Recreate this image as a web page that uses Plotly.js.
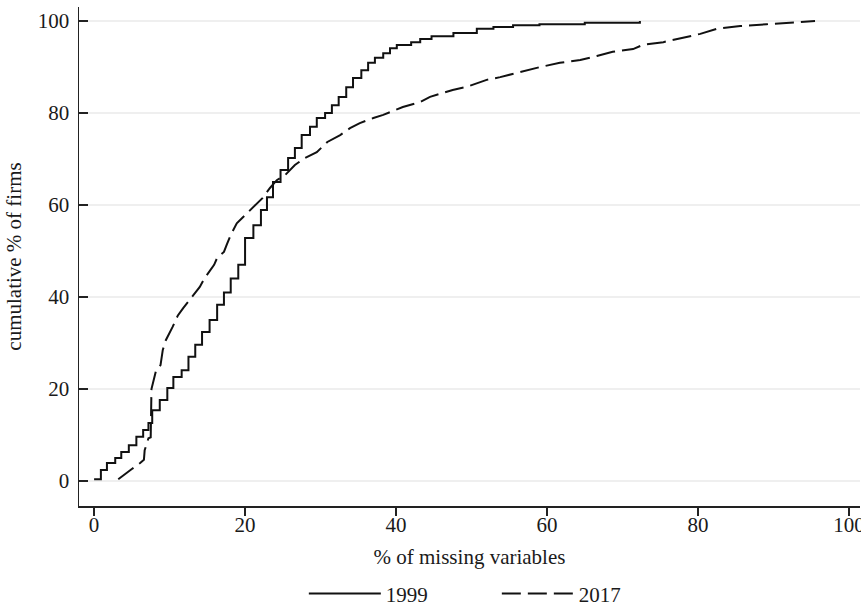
<!DOCTYPE html>
<html>
<head>
<meta charset="utf-8">
<script src="https://cdn.plot.ly/plotly-3.0.1.min.js"></script>
<style>html,body{margin:0;padding:0;background:#fff;}#chart{width:861px;height:615px;}</style>
</head>
<body>
<div id="chart"></div>
<script>
// % of missing variables (x) and cumulative % of firms (y), 1999
const x1999 = [0, 0.9, 1.7, 2.8, 3.6, 4.6, 5.6, 6.5, 7.2, 7.7, 8.7, 9.7, 10.5, 11.6, 12.5, 13.4, 14.3, 15.3, 16.3, 17.2, 18.1, 19.1, 20.0, 21.1, 22.1, 22.9, 23.7, 24.7, 25.7, 26.6, 27.5, 28.6, 29.5, 30.6, 31.5, 32.4, 33.4, 34.3, 35.4, 36.3, 37.2, 38.3, 39.2, 40.1, 42.0, 43.2, 44.7, 47.6, 50.7, 52.9, 55.5, 59.0, 65.0, 72.3];
const y1999 = [0.4, 2.4, 3.9, 5.0, 6.3, 7.8, 9.6, 11.1, 12.6, 15.4, 17.6, 20.2, 22.6, 24.1, 27.0, 29.6, 32.4, 35.0, 38.3, 41.0, 44.0, 47.0, 52.8, 55.6, 58.9, 61.7, 65.0, 67.6, 70.2, 72.4, 75.2, 77.0, 78.9, 80.0, 81.7, 83.5, 85.6, 87.6, 89.3, 90.9, 92.0, 93.0, 94.1, 94.8, 95.4, 96.1, 96.7, 97.4, 98.3, 98.7, 99.1, 99.3, 99.6, 100];
// 2017
const x2017 = [3.2, 4.0, 5.0, 6.1, 6.6, 6.7, 7.2, 7.5, 7.6, 8.2, 8.8, 9.1, 9.5, 10.4, 11.1, 11.8, 12.6, 13.3, 14.0, 14.6, 15.2, 15.9, 16.3, 17.2, 17.6, 18.1, 18.9, 20.0, 21.1, 22.3, 23.3, 24.2, 25.3, 26.6, 27.9, 29.5, 30.9, 32.6, 33.9, 35.2, 37.0, 38.3, 40.9, 43.2, 44.5, 46.2, 47.5, 49.4, 50.7, 52.0, 53.8, 56.4, 59.1, 61.7, 64.4, 66.6, 68.7, 71.4, 72.7, 75.4, 78.5, 80.3, 82.5, 85.6, 89.1, 92.2, 95.5];
const y2017 = [0.4, 1.3, 2.6, 3.9, 4.6, 6.7, 9.3, 9.5, 20.0, 24.0, 25.2, 28.5, 30.6, 33.5, 36.0, 37.6, 39.3, 40.9, 42.2, 44.0, 45.4, 47.0, 48.5, 49.8, 51.5, 53.5, 56.0, 57.8, 59.6, 61.5, 63.7, 65.4, 66.5, 68.7, 70.2, 71.5, 73.7, 75.2, 76.7, 77.8, 78.9, 79.6, 81.3, 82.4, 83.5, 84.3, 85.0, 85.7, 86.5, 87.2, 87.8, 88.9, 90.0, 90.9, 91.5, 92.4, 93.3, 93.9, 94.8, 95.4, 96.5, 97.2, 98.3, 98.9, 99.3, 99.6, 100];
const xTicks = [0, 20, 40, 60, 80, 100];
const yTicks = [0, 20, 40, 60, 80, 100];
const seriesNames = ['1999', '2017'];

const FONT = 'Liberation Serif, Times New Roman, serif';
const traces = [
  {x: x1999, y: y1999, name: seriesNames[0], type: 'scatter', mode: 'lines',
   line: {color: '#111', width: 2, shape: 'hv'}},
  {x: x2017, y: y2017, name: seriesNames[1], type: 'scatter', mode: 'lines',
   line: {color: '#111', width: 2, shape: 'linear', dash: '19px,7px'}}
];
const layout = {
  width: 861, height: 615,
  margin: {l: 79, r: 1, t: 7, b: 109},
  paper_bgcolor: '#fff', plot_bgcolor: '#fff',
  font: {family: FONT, size: 21, color: '#1a1a1a'},
  showlegend: true,
  legend: {orientation: 'h', x: 0.535, xanchor: 'center', y: -0.176, yanchor: 'middle',
           itemwidth: 72, entrywidth: 106, font: {family: FONT, size: 21, color: '#1a1a1a'}},
  xaxis: {range: [-2.0, 101.46], tickvals: xTicks, ticktext: xTicks.map(String),
          showgrid: false, zeroline: false, showline: true, linecolor: '#222', linewidth: 1.5,
          ticks: 'outside', ticklen: 8, tickcolor: '#222', tickwidth: 1.5,
          ticklabeloverflow: 'allow', ticklabelstandoff: -9,
          title: {text: '% of missing variables', font: {family: FONT, size: 21}, standoff: 13},
          fixedrange: true},
  yaxis: {range: [-5.43, 103.04], tickvals: yTicks, ticktext: yTicks.map(String),
          showgrid: true, gridcolor: '#efefef', gridwidth: 2, zeroline: false,
          showline: true, linecolor: '#222', linewidth: 1.5,
          ticks: 'inside', ticklen: 9, tickcolor: '#222', tickwidth: 1.5, ticklabelstandoff: 4,
          title: {text: 'cumulative % of firms', font: {family: FONT, size: 21}, standoff: 10},
          fixedrange: true}
};
Plotly.newPlot('chart', traces, layout, {displayModeBar: false, staticPlot: true});
</script>
</body>
</html>
